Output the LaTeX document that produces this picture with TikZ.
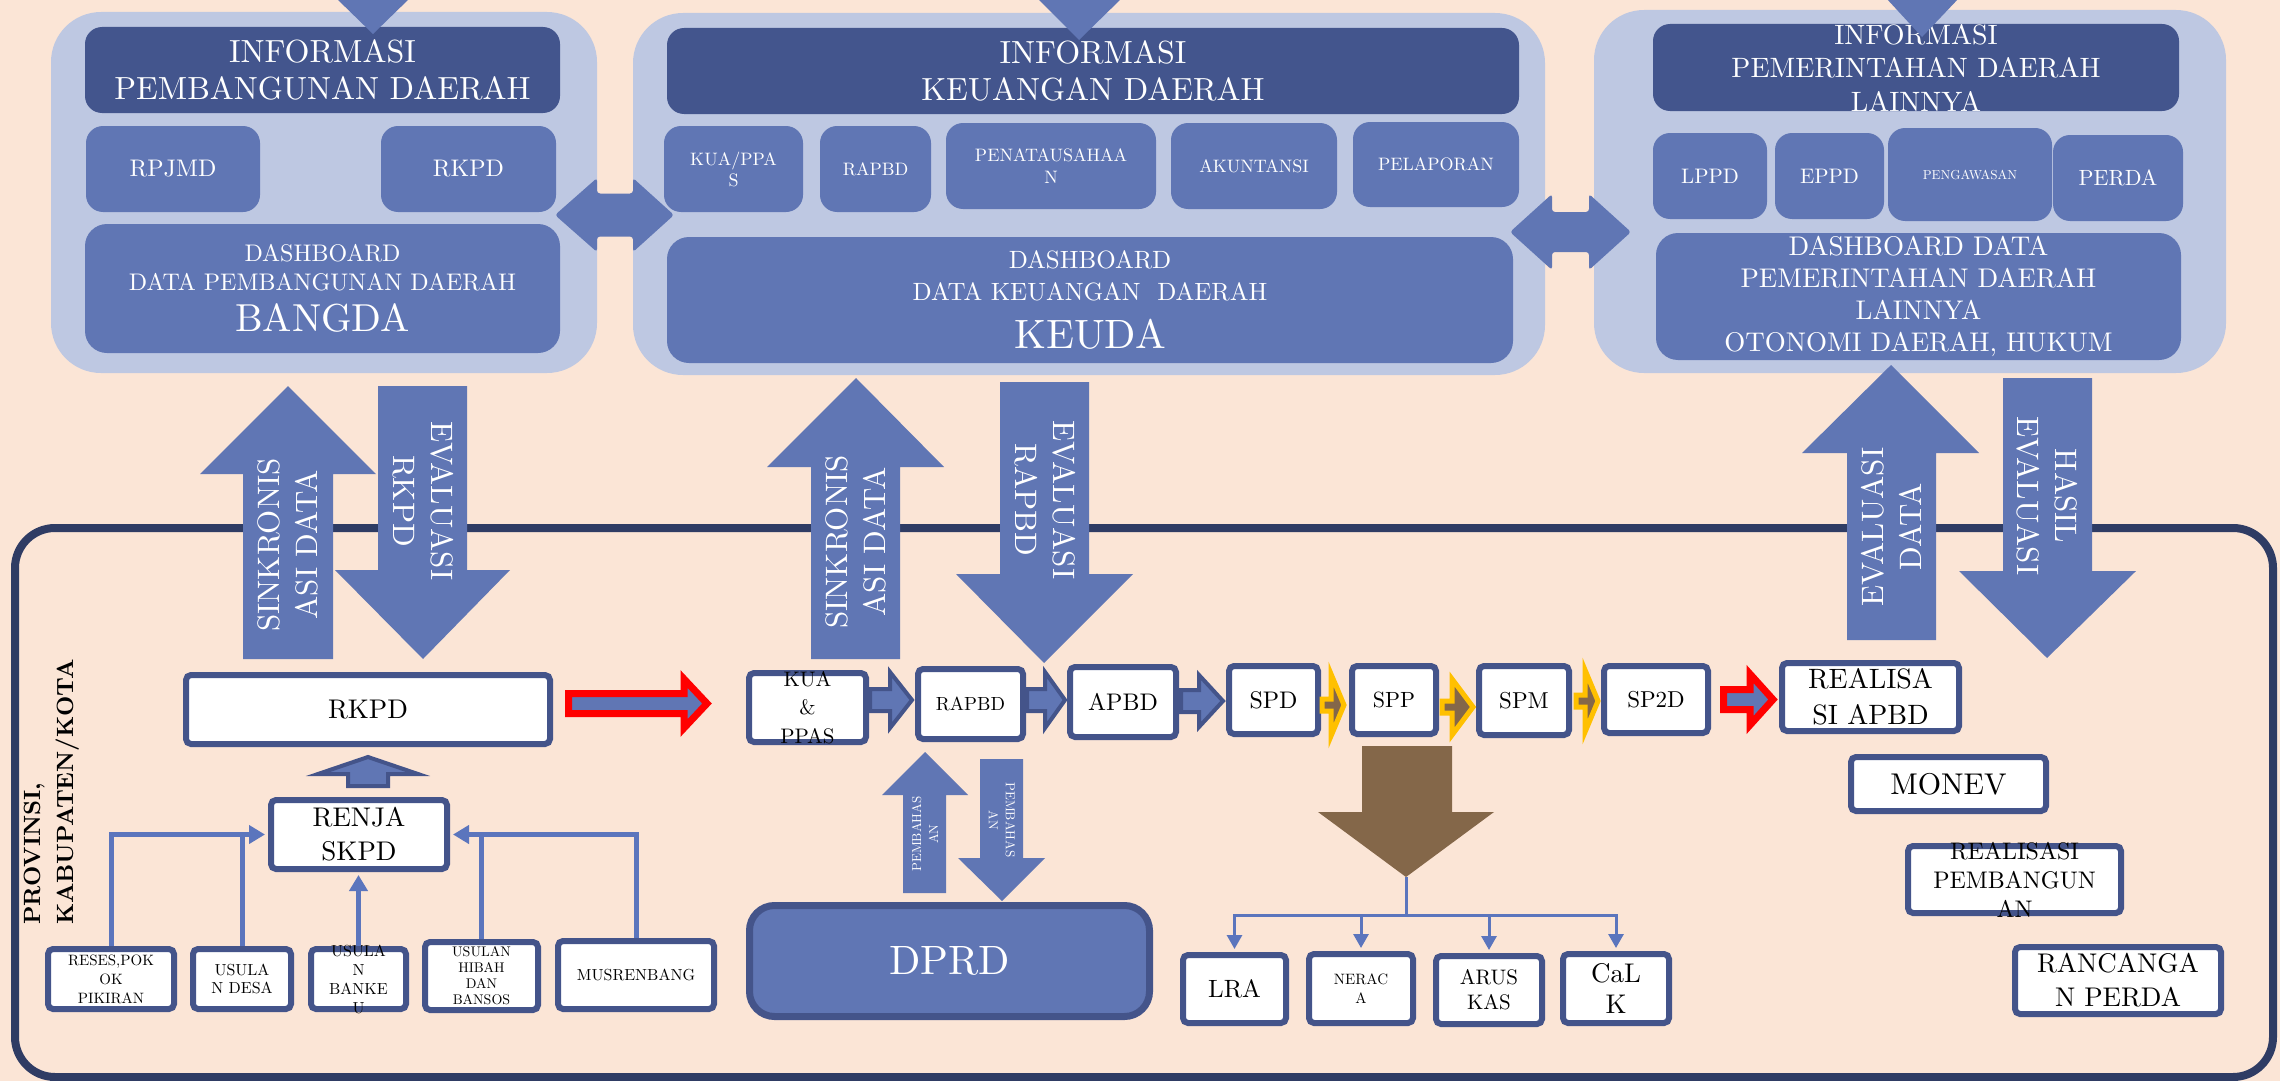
\documentclass[tikz,border=0pt]{standalone}
\usepackage{fontspec}
\setmainfont{lmroman10-regular.otf}[BoldFont=lmroman10-bold.otf]
\usetikzlibrary{arrows.meta}
\definecolor{bgc}{HTML}{FBE5D6}
\definecolor{panelc}{HTML}{BEC8E2}
\definecolor{hdrc}{HTML}{43558D}
\definecolor{medc}{HTML}{6076B4}
\definecolor{bordc}{HTML}{44548A}
\definecolor{framec}{HTML}{2F3C64}
\definecolor{linec}{HTML}{5B75BD}
\definecolor{brownc}{HTML}{846749}
\definecolor{goldc}{HTML}{FFC000}
\newcommand{\fsz}[2]{\fontsize{#1}{#2}\selectfont}
\newcommand{\bxw}[8]{\node[#1, minimum width=#5pt, minimum height=#6pt] (#2) at (#3,#4) {};\node[txtw, font=#7] (#2-t) at (#3,#4) {#8};}
\newcommand{\bxk}[8]{\node[#1, minimum width=#5pt, minimum height=#6pt] (#2) at (#3,#4) {};\node[txtk, font=#7] (#2-t) at (#3,#4) {#8};}
\tikzset{
  panel/.style={fill=panelc, rounded corners=50pt},
  hdr/.style={fill=hdrc, rounded corners=17pt, inner sep=0pt},
  mbox/.style={fill=medc, rounded corners=17pt, inner sep=0pt},
  wbox/.style={fill=white, draw=bordc, line width=6pt, rounded corners=5pt, inner sep=0pt},
  txtw/.style={text=white, align=center, inner sep=0pt},
  txtk/.style={text=black, align=center, inner sep=0pt},
  smarr/.style={fill=medc, draw=bordc, line width=4pt},
  goldarr/.style={fill=brownc, draw=goldc, line width=5pt},
  redarr/.style={fill=medc, draw=red, line width=7pt},
  cline/.style={draw=linec, line width=5pt},
  tline/.style={draw=linec, line width=3pt},
  ahead/.style={-{Triangle[length=16pt,width=18pt]}},
  tahead/.style={-{Triangle[length=14pt,width=15pt]}},
}
\begin{document}
\begin{tikzpicture}[x=1pt,y=-1pt]
\useasboundingbox (0,0) rectangle (2280,1081);
\fill[bgc] (0,0) rectangle (2280,1081);

% ---------- top panels
\fill[panel] (51,12) rectangle (597,373);
\fill[panel] (633,13) rectangle (1545,375);
\fill[panel] (1594,10) rectangle (2226,373);

% panel 1
\bxw{hdr}{h1}{322.5}{70}{475}{86}{\fsz{32}{37}}{INFORMASI\\PEMBANGUNAN DAERAH}
\bxw{mbox}{rpjmd}{173}{169}{174}{86}{\fsz{24}{28}}{RPJMD}
\bxw{mbox}{rkpdt}{468.5}{169}{175}{86}{\fsz{24}{28}}{RKPD}
\bxw{mbox,rounded corners=22pt}{d1}{322.5}{288.5}{475}{129}{\fsz{24}{29}}{DASHBOARD\\DATA PEMBANGUNAN DAERAH\\[12pt]{\fsz{39}{41}BANGDA}}

% panel 2
\bxw{hdr}{h2}{1093}{71}{852}{86}{\fsz{32}{37}}{INFORMASI\\KEUANGAN DAERAH}
\bxw{mbox}{kuat}{733.5}{169}{139}{86}{\fsz{18}{21}}{KUA/PPA\\S}
\bxw{mbox}{rapbdt}{875.5}{169}{111}{86}{\fsz{18}{21}}{RAPBD}
\bxw{mbox}{penata}{1051}{166}{210}{86}{\fsz{18}{22}}{PENATAUSAHAA\\N}
\bxw{mbox}{akun}{1254}{166}{166}{86}{\fsz{18}{21}}{AKUNTANSI}
\bxw{mbox}{pelap}{1436}{164.5}{166}{85}{\fsz{18}{21}}{PELAPORAN}
\bxw{mbox,rounded corners=22pt}{d2}{1090}{300}{846}{126}{\fsz{25}{32}}{DASHBOARD\\DATA KEUANGAN\ \ DAERAH\\[16pt]{\fsz{41}{44}KEUDA}}

% panel 3
\bxw{hdr}{h3}{1916}{67.5}{526}{87}{\fsz{28}{33.5}}{INFORMASI\\PEMERINTAHAN DAERAH\\LAINNYA}
\bxw{mbox}{lppd}{1710}{176}{114}{86}{\fsz{21}{25}}{LPPD}
\bxw{mbox}{eppd}{1829.5}{176}{109}{86}{\fsz{21}{25}}{EPPD}
\bxw{mbox}{pengaw}{1970}{174.5}{164}{93}{\fsz{13}{15}}{PENGAWASAN}
\bxw{mbox}{perda}{2118}{178}{130}{86}{\fsz{22}{26}}{PERDA}
\bxw{mbox,rounded corners=22pt}{d3}{1918.5}{296.5}{525}{127}{\fsz{27}{32}}{DASHBOARD DATA\\PEMERINTAHAN DAERAH\\LAINNYA\\OTONOMI DAERAH, HUKUM}

% top triangles (arrow tips entering from above)
\fill[medc] (336,-2) -- (410,-2) -- (373,34) -- cycle;
\fill[medc] (1037,-2) -- (1122,-2) -- (1079,40) -- cycle;
\fill[medc] (1886,-2) -- (1959,-2) -- (1922,37) -- cycle;

% double arrows between panels
\fill[medc, rounded corners=3pt] (555,215) -- (597,178) -- (597,193.5) -- (633,193.5) -- (633,178) -- (674,215) -- (633,252) -- (633,236.5) -- (597,236.5) -- (597,252) -- cycle;
\fill[medc, rounded corners=3pt] (1510,232) -- (1552,194) -- (1552,212) -- (1589,212) -- (1589,194) -- (1631,232) -- (1589,270) -- (1589,252) -- (1552,252) -- (1552,270) -- cycle;

% ---------- lower frame
\draw[framec, line width=8pt, rounded corners=40pt] (15,528) rectangle (2273,1077);
\node[txtk, rotate=90, align=left, font=\bfseries\fsz{23.5}{33}] (prov) at (52,792) {PROVINSI,\\KABUPATEN/KOTA};

% big vertical arrows
\fill[medc] (243,659) -- (243,474) -- (200,474) -- (288,386) -- (376,474) -- (333,474) -- (333,659) -- cycle;
\fill[medc] (378,386) -- (467,386) -- (467,570) -- (510,570) -- (423,659) -- (335,570) -- (378,570) -- cycle;
\fill[medc] (811,659) -- (811,467) -- (767,467) -- (856,378) -- (944,467) -- (900,467) -- (900,659) -- cycle;
\fill[medc] (1000,382) -- (1089,382) -- (1089,574) -- (1133,574) -- (1044,663) -- (956,574) -- (1000,574) -- cycle;
\fill[medc] (1847,640) -- (1847,453) -- (1802,453) -- (1891,365) -- (1979,453) -- (1936,453) -- (1936,640) -- cycle;
\fill[medc] (2003,378) -- (2092,378) -- (2092,571) -- (2136,571) -- (2047,658) -- (1959,571) -- (2003,571) -- cycle;
\node[txtw, rotate=90, font=\fsz{31}{38}] (a1t) at (288,545) {SINKRONIS\\ASI DATA};
\node[txtw, rotate=-90, font=\fsz{31}{38}] (a2t) at (423,501) {EVALUASI\\RKPD};
\node[txtw, rotate=90, font=\fsz{31}{38}] (a3t) at (856,542) {SINKRONIS\\ASI DATA};
\node[txtw, rotate=-90, font=\fsz{31}{38}] (a4t) at (1045,500) {EVALUASI\\RAPBD};
\node[txtw, rotate=90, font=\fsz{31}{38}] (a5t) at (1891,527) {EVALUASI\\DATA};
\node[txtw, rotate=-90, font=\fsz{31}{38}] (a6t) at (2047,496) {HASIL\\EVALUASI};

% ---------- process row
\bxk{wbox}{rkpd}{368}{709.5}{364}{69}{\fsz{27}{32}}{RKPD}
\bxk{wbox}{kua}{807.5}{707.5}{117}{69}{\fsz{21}{28.5}}{KUA\\\&\\PPAS}
\bxk{wbox}{rapbd}{970.5}{704}{105}{70}{\fsz{19}{22}}{RAPBD}
\bxk{wbox}{apbd}{1123}{702}{106}{70}{\fsz{24}{28}}{APBD}
\bxk{wbox}{spd}{1273.5}{700}{89}{68}{\fsz{24}{28}}{SPD}
\bxk{wbox}{spp}{1394}{700}{84}{68}{\fsz{22}{26}}{SPP}
\bxk{wbox}{spm}{1524}{700.5}{90}{69}{\fsz{23}{27}}{SPM}
\bxk{wbox}{sp2d}{1656}{699.5}{104}{67}{\fsz{23}{27}}{SP2D}
\bxk{wbox}{real}{1870.5}{697}{177}{68}{\fsz{28}{36}}{REALISA\\SI APBD}
\bxk{wbox}{monev}{1948.5}{784}{195}{54}{\fsz{30}{34}}{MONEV}
\bxk{wbox}{rpemb}{2014.5}{879.5}{213}{67}{\fsz{24}{29}}{REALISASI\\PEMBANGUN\\AN}
\bxk{wbox}{ranc}{2118}{980.5}{206}{67}{\fsz{27}{34}}{RANCANGA\\N PERDA}

\draw[redarr] (568.5,693.5) -- (684,693.5) -- (684,679) -- (707,703.5) -- (684,728) -- (684,713.5) -- (568.5,713.5) -- cycle;
\draw[smarr] (870,689) -- (890,689) -- (890,672) -- (912,700) -- (890,728) -- (890,711) -- (870,711) -- cycle;
\draw[smarr] (1027,689) -- (1045,689) -- (1045,672) -- (1065,700) -- (1045,728) -- (1045,711) -- (1027,711) -- cycle;
\draw[smarr] (1181,690) -- (1199,690) -- (1199,675) -- (1223,701) -- (1199,727) -- (1199,712) -- (1181,712) -- cycle;
\draw[goldarr] (1322,699) -- (1331,699) -- (1331,674) -- (1344,705) -- (1331,736) -- (1331,711) -- (1322,711) -- cycle;
\draw[goldarr] (1442,701) -- (1452,701) -- (1452,679) -- (1473,707) -- (1452,735) -- (1452,713) -- (1442,713) -- cycle;
\draw[goldarr] (1576,695) -- (1585,695) -- (1585,670) -- (1598,701) -- (1585,732) -- (1585,707) -- (1576,707) -- cycle;
\draw[redarr] (1723.5,689.5) -- (1750,689.5) -- (1750,674) -- (1773,699.5) -- (1750,725) -- (1750,709.5) -- (1723.5,709.5) -- cycle;

% ---------- RENJA tree
\draw[smarr] (348,786) -- (348,774) -- (318,774) -- (368,757) -- (418,774) -- (388,774) -- (388,786) -- cycle;
\bxk{wbox}{renja}{359}{834.5}{176}{69}{\fsz{27}{34}}{RENJA\\SKPD}
\bxk{wbox}{reses}{111}{979}{126}{60}{\fsz{15}{19}}{RESES,POK\\OK\\PIKIRAN}
\bxk{wbox}{desa}{242}{979}{98}{60}{\fsz{16}{18}}{USULA\\N DESA}
\bxk{wbox}{bankeu}{358.5}{979}{95}{60}{\fsz{16}{19}}{USULA\\N\\BANKE\\U}
\bxk{wbox}{hibah}{481.5}{976}{113}{68}{\fsz{14}{16}}{USULAN\\HIBAH\\DAN\\BANSOS}
\bxk{wbox}{musr}{636}{975}{156}{68}{\fsz{16}{19}}{MUSRENBANG}
\draw[cline, ahead, shorten >=3pt] (reses.north) |- (renja.west);
\draw[cline] (desa.north) -- (desa.north |- renja.west);
\draw[cline, ahead, shorten >=3pt] (bankeu.north) -- (bankeu.north |- renja.south);
\draw[cline] (hibah.north) -- (hibah.north |- renja.east);
\draw[cline, ahead, shorten >=3pt] (musr.north) |- (renja.east);

% ---------- DPRD
\fill[medc] (903,893) -- (903,795) -- (882,795) -- (925,752) -- (968,795) -- (946,795) -- (946,893) -- cycle;
\fill[medc] (980,759) -- (1023,759) -- (1023,858) -- (1045,858) -- (1002,901) -- (958,858) -- (980,858) -- cycle;
\node[txtw, rotate=90, font=\fsz{13}{17}] (pu-t) at (925,834) {PEMBAHAS\\AN};
\node[txtw, rotate=-90, font=\fsz{13}{17}] (pd-t) at (1002,820) {PEMBAHAS\\AN};
\bxw{wbox,fill=medc,line width=7pt,rounded corners=25pt}{dprd}{949.5}{961}{400}{111}{\fsz{41}{44}}{DPRD}

% ---------- reports
\fill[brownc] (1362,746) -- (1452,746) -- (1452,812) -- (1494,812) -- (1406,877) -- (1318,812) -- (1362,812) -- cycle;
\coordinate (brtip) at (1406,877);
\coordinate (fork) at (1406,915);
\bxk{wbox}{lra}{1234.5}{989}{103}{68}{\fsz{25}{29}}{LRA}
\bxk{wbox}{neraca}{1361}{988.5}{104}{69}{\fsz{15}{19}}{NERAC\\A}
\bxk{wbox}{arus}{1489}{990}{106}{68}{\fsz{21}{25}}{ARUS\\KAS}
\bxk{wbox}{calk}{1616}{988.5}{106}{69}{\fsz{27}{31}}{CaL\\K}
\draw[tline] (brtip) -- (fork);
\foreach \b in {lra,neraca,arus,calk} \draw[tline, tahead, shorten >=3pt] (fork) -| (\b.north);
\end{tikzpicture}
\end{document}
